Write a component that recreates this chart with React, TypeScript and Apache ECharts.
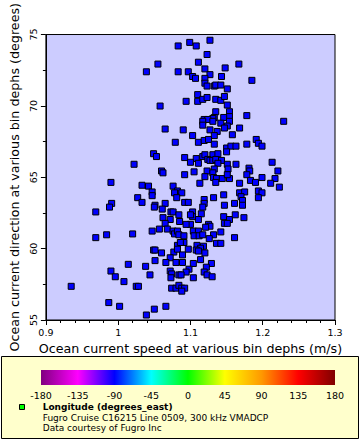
import React, { useEffect, useRef } from "react";
import * as echarts from "echarts";

// Ocean current speed (m/s)
const speed = [
  1.083, 1.099, 1.108, 1.127, 1.123, 1.055, 1.111, 1.167, 1.120, 1.148,
  1.039, 1.083, 1.097, 1.103, 1.107, 1.127, 1.120, 1.143, 1.185, 1.120,
  1.123, 1.133, 1.135, 1.142, 1.151, 1.110, 1.094, 1.110, 1.117, 1.123,
  1.135, 1.142, 1.147, 1.151, 1.058, 1.135, 1.154, 1.178, 1.229, 1.154,
  1.146, 1.133, 1.131, 1.119, 1.124, 1.117, 1.117, 1.131, 1.142, 1.154,
  1.151, 1.147, 1.168, 1.090, 1.127, 1.137, 1.065, 1.103, 1.133, 1.158,
  1.079, 1.111, 1.119, 1.125, 1.133, 1.150, 1.156, 1.163, 1.178, 1.191,
  1.194, 1.199, 1.150, 1.049, 1.053, 1.092, 1.117, 1.120, 1.131, 1.138,
  1.124, 1.127, 1.131, 1.135, 1.143, 1.138, 1.108, 1.100, 1.111, 1.022,
  1.151, 1.163, 1.213, 1.152, 1.181, 1.182, 1.221, 1.133, 1.123, 1.131,
  1.105, 1.060, 1.062, 1.092, 1.120, 1.132, 1.136, 1.144, 1.154, 1.151,
  1.178, 1.199, 1.217, 1.183, 1.190, 1.211, 1.223, 1.135, 1.113, 1.168,
  0.990, 1.033, 1.042, 1.076, 1.047, 1.047, 1.082, 1.078, 1.088, 1.081,
  1.027, 1.033, 0.991, 0.988, 1.051, 1.050, 1.065, 1.061, 0.969, 1.073,
  1.076, 1.084, 1.062, 1.072, 1.065, 1.085, 1.168, 1.175, 1.170, 1.172,
  1.194, 1.199, 1.194, 1.146, 1.132, 1.119, 1.119, 1.117, 1.092, 1.097,
  1.147, 1.161, 1.172, 1.103, 1.103, 1.100, 1.115, 1.111, 1.146, 1.154,
  1.162, 1.174, 1.147, 1.151, 1.100, 1.094, 1.125, 1.127, 1.121, 1.047,
  1.057, 1.068, 1.076, 1.078, 1.082, 1.084, 0.969, 0.984, 1.020, 1.049,
  1.051, 1.060, 1.077, 1.082, 1.082, 1.072, 1.051, 1.066, 1.080, 1.014,
  1.038, 0.990, 1.072, 1.044, 0.996, 1.074, 1.073, 1.084, 1.008, 1.025,
  1.028, 0.935, 1.074, 1.080, 1.084, 1.088, 1.092, 1.088, 0.987, 1.002,
  1.066, 1.050, 1.039, 1.104, 1.111, 1.091, 1.105, 1.112, 1.117, 1.132,
  1.142, 1.161, 1.126, 1.091, 1.086, 1.136, 1.142, 1.109, 1.118, 1.114,
  1.108, 1.111, 1.097, 1.120, 1.089, 1.114, 1.089, 1.104, 1.129, 1.122,
  1.098, 1.094, 1.087, 1.119, 1.123, 1.130, 1.104,
];

// Ocean current direction (degrees)
const direction = [
  74.2, 74.45, 74.2, 74.6, 73.6, 72.93, 73.06, 72.93, 72.59, 72.66,
  72.39, 72.39, 72.39, 72.06, 71.93, 72.19, 71.93, 72.06, 71.79, 71.59,
  71.39, 71.39, 71.46, 71.46, 71.19, 70.79, 70.32, 70.32, 70.46, 70.59,
  70.46, 70.39, 70.66, 70.06, 69.99, 69.59, 69.59, 69.32, 68.92, 69.25,
  69.19, 69.19, 69.12, 69.05, 69.05, 68.92, 68.65, 68.92, 68.79, 68.92,
  68.59, 68.45, 68.45, 68.32, 68.32, 68.21, 68.38, 67.92, 67.92, 67.98,
  67.45, 67.45, 67.58, 67.65, 67.32, 67.05, 67.18, 67.18, 67.32, 67.65,
  67.38, 67.18, 66.78, 66.65, 66.45, 66.38, 66.45, 66.58, 66.58, 66.65,
  66.25, 66.18, 66.18, 66.25, 66.18, 65.98, 66.31, 66.05, 65.98, 65.91,
  65.91, 65.91, 66.05, 65.58, 65.64, 65.44, 65.44, 65.58, 65.44, 65.31,
  65.38, 65.44, 65.31, 65.18, 65.04, 64.98, 64.91, 64.91, 64.91, 65.18,
  65.18, 64.98, 64.91, 64.78, 64.64, 64.58, 64.31, 64.64, 64.58, 64.58,
  64.64, 64.44, 64.38, 64.38, 63.97, 63.71, 64.04, 63.91, 63.91, 63.57,
  63.57, 63.24, 63.17, 62.91, 63.04, 62.91, 63.17, 62.77, 62.57, 62.57,
  62.57, 62.37, 62.17, 62.04, 61.77, 61.9, 63.91, 63.97, 63.64, 63.37,
  64.04, 63.91, 63.57, 63.77, 63.57, 63.44, 63.17, 62.91, 63.24, 63.24,
  63.04, 63.17, 63.04, 62.57, 62.24, 62.37, 62.44, 62.04, 62.24, 62.04,
  62.37, 62.17, 61.77, 61.77, 61.7, 61.7, 61.7, 61.57, 61.5, 61.23,
  61.37, 61.37, 61.23, 61.03, 61.23, 60.97, 60.77, 60.97, 61.03, 59.9,
  59.9, 59.7, 59.76, 60.23, 59.96, 59.36, 59.16, 59.03, 59.03, 58.9,
  58.76, 58.43, 58.43, 58.16, 58.03, 58.23, 57.96, 58.16, 57.69, 57.36,
  57.36, 57.36, 57.23, 57.23, 57.43, 57.23, 57.23, 57.02, 56.22, 55.96,
  55.96, 55.76, 55.35, 61.23, 61.23, 60.9, 60.9, 60.9, 60.97, 60.97,
  61.17, 60.77, 60.7, 60.43, 60.43, 60.37, 60.37, 60.23, 60.17, 60.03,
  59.9, 59.83, 59.96, 59.7, 59.56, 59.23, 59.03, 58.96, 58.96, 58.7,
  58.56, 58.36, 58.16, 58.36, 58.16, 58.03, 57.96,
];

// Colour bar (longitude, degrees_east)
const colorbarTicks = [-180, -135, -90, -45, 0, 45, 90, 135, 180];
const colorbarColors = [
  "#800080", "#ff00ff", "#0000ff", "#00ffff", "#00ff00",
  "#ffff00", "#ff9900", "#ff0000", "#800000",
];

const legendLines = [
  "Longitude (degrees_east)",
  "Fugro Cruise C16215 Line 0509, 300 kHz VMADCP",
  "Data courtesy of Fugro Inc",
];

const FONT = "DejaVu Sans";

export default function App() {
  const ref = useRef<HTMLDivElement>(null);

  useEffect(() => {
    document.body.style.margin = "0";
    if (!ref.current) return;
    const chart = echarts.init(ref.current, null, { renderer: "svg" });

    const points = speed.map((s, i) => [s, direction[i]]);
    const stops = colorbarColors.map((c, i) => ({
      offset: i / (colorbarColors.length - 1),
      color: c,
    }));

    const option: any = {
      animation: false,
      backgroundColor: "#ffffff",
      textStyle: { fontFamily: FONT },
      grid: [
        {
          left: 37,
          top: 21,
          right: 25,
          bottom: 120,
          show: true,
          backgroundColor: "#ccccff",
          borderColor: "#000",
          borderWidth: 1,
        },
        {
          left: 41,
          width: 294,
          top: 370,
          height: 15,
          show: true,
          backgroundColor: new echarts.graphic.LinearGradient(0, 0, 1, 0, stops),
          borderWidth: 0,
          z: 5,
        },
      ],
      xAxis: [
        {
          type: "value",
          gridIndex: 0,
          min: 0.9,
          max: 1.3,
          interval: 0.1,
          name: "Ocean current speed at various bin dephs (m/s)",
          nameLocation: "middle",
          nameGap: 20,
          nameTextStyle: { fontFamily: FONT, fontSize: 12.7, color: "#000" },
          axisLine: { show: true, onZero: false, lineStyle: { color: "#000", width: 1 } },
          axisTick: { show: true, length: 5, lineStyle: { color: "#000" } },
          minorTick: { show: true, splitNumber: 5, length: 3, lineStyle: { color: "#000" } },
          splitLine: { show: false },
          axisLabel: { fontFamily: FONT, fontSize: 9.5, color: "#000", margin: 7 },
        },
        {
          type: "value",
          gridIndex: 1,
          min: colorbarTicks[0],
          max: colorbarTicks[colorbarTicks.length - 1],
          interval: 45,
          z: 5,
          axisLine: { show: false },
          axisTick: { show: false },
          splitLine: { show: false },
          axisLabel: { fontFamily: FONT, fontSize: 9.5, color: "#000", margin: 5 },
        },
      ],
      yAxis: [
        {
          type: "value",
          gridIndex: 0,
          min: 55,
          max: 75,
          interval: 5,
          name: "Ocean current direction at various bin dephs (degrees)",
          nameLocation: "middle",
          nameGap: 19,
          nameTextStyle: { fontFamily: FONT, fontSize: 12.7, color: "#000" },
          axisLine: { show: true, onZero: false, lineStyle: { color: "#000", width: 1 } },
          axisTick: { show: true, length: 5, lineStyle: { color: "#000" } },
          minorTick: { show: true, splitNumber: 2, length: 3, lineStyle: { color: "#000" } },
          splitLine: { show: false },
          axisLabel: { fontFamily: FONT, fontSize: 9.5, color: "#000", margin: 7, rotate: 90 },
        },
        {
          type: "value",
          gridIndex: 1,
          show: false,
          min: 0,
          max: 1,
        },
      ],
      series: [
        {
          type: "scatter",
          xAxisIndex: 0,
          yAxisIndex: 0,
          data: points,
          symbol: "rect",
          symbolSize: 6,
          itemStyle: { color: "#0000ff", borderColor: "#000", borderWidth: 1, opacity: 1 },
          emphasis: { disabled: true },
        },
      ],
      graphic: [
        {
          type: "rect",
          z: -1,
          shape: { x: 1.5, y: 356.5, width: 357, height: 82 },
          style: { fill: "#ffffcc", stroke: "#000", lineWidth: 1 },
        },
        {
          type: "rect",
          z: 6,
          shape: { x: 19.5, y: 404.5, width: 5, height: 5 },
          style: { fill: "#00ff00", stroke: "#000", lineWidth: 1 },
        },
        ...legendLines.map((t, i) => ({
          type: "text",
          z: 6,
          x: 42.7,
          y: 407 + i * 10.5,
          style: {
            text: t,
            fill: "#000",
            fontFamily: FONT,
            fontSize: 9,
            fontWeight: i === 0 ? "bold" : "normal",
            verticalAlign: "middle",
            align: "left",
          },
        })),
      ],
    };

    chart.setOption(option);
    return () => chart.dispose();
  }, []);

  return <div ref={ref} style={{ width: 360, height: 440 }} />;
}
